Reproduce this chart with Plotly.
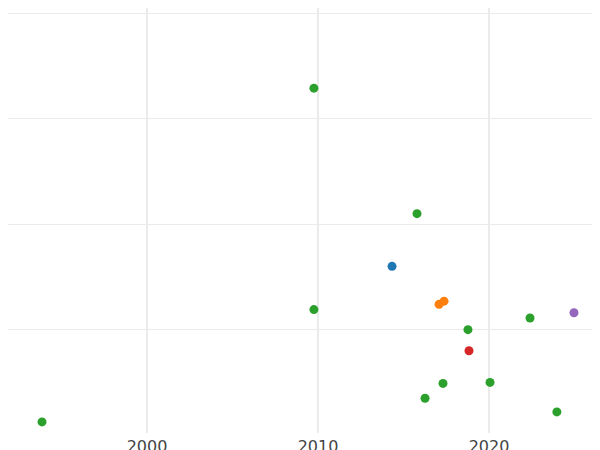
import plotly.graph_objects as go

years = [1993.86, 2009.76, 2015.79, 2014.33, 2009.76, 2017.08, 2017.37, 2024.97,
         2022.4, 2018.77, 2018.83, 2017.31, 2020.06, 2016.26, 2023.97]
values = [0.125, 3.29, 2.10, 1.60, 1.19, 1.24, 1.27, 1.16,
          1.11, 1.00, 0.80, 0.49, 0.50, 0.35, 0.22]
groups = ["g", "g", "g", "b", "g", "o", "o", "p",
          "g", "g", "r", "g", "g", "g", "g"]
palette = {"b": "#1f77b4", "o": "#ff7f0e", "g": "#2ca02c", "r": "#d62728", "p": "#9467bd"}

fig = go.Figure()
for key in ["b", "o", "g", "r", "p"]:
    xs = [x for x, gr in zip(years, groups) if gr == key]
    ys = [y for y, gr in zip(values, groups) if gr == key]
    fig.add_trace(go.Scatter(x=xs, y=ys, mode="markers", cliponaxis=False,
                             marker=dict(color=palette[key], size=9), showlegend=False))

fig.update_layout(
    template="plotly_white", width=600, height=450,
    margin=dict(l=0, r=0, t=0, b=25, autoexpand=False),
    font=dict(family="DejaVu Sans", size=16, color="#444"),
)
fig.update_xaxes(range=[1991.87, 2026.96], tickvals=[2000, 2010, 2020], automargin=False,
                 gridcolor="#ebebeb", gridwidth=1.5, zeroline=False, ticklabelstandoff=2)
fig.update_yaxes(range=[0.02, 4.05], tickvals=[1, 2, 3, 4], showticklabels=False, automargin=False,
                 gridcolor="#ebebeb", zeroline=False)
fig.write_html("out.html")
